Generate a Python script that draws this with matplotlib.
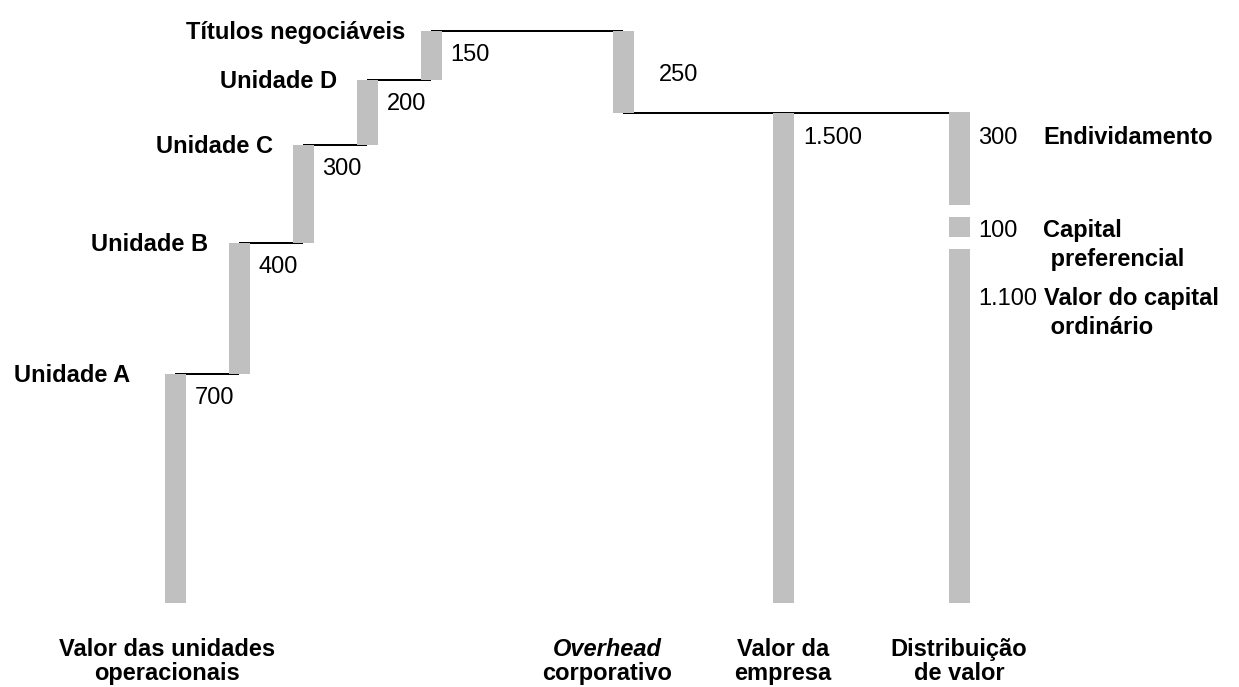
import matplotlib
matplotlib.use("Agg")
import matplotlib.pyplot as plt
import numpy as np

plt.rcParams["font.family"] = ["Liberation Sans", "DejaVu Sans"]

# --- data -------------------------------------------------------------
unit_names = ["Unidade A", "Unidade B", "Unidade C", "Unidade D", "Títulos negociáveis"]
unit_values = [700, 400, 300, 200, 150]
overhead_value = 250
enterprise_value = 1500
claim_names = ["Endividamento", "Capital\n preferencial", "Valor do capital\n ordinário"]
claim_values = [300, 100, 1100]
group_names = ["Valor das unidades\noperacionais", "Overhead\ncorporativo",
               "Valor da\nempresa", "Distribuição\nde valor"]
group_first_line_style = ["normal", "italic", "normal", "normal"]

# --- layout -----------------------------------------------------------
DPI = 100
W_PX, H_PX = 1239, 687
BASE_PX = 603          # pixel row of the zero line
UNIT_PX = 0.327        # pixels per unit of value
SLOT_PX = 64           # pixels between neighbouring slots
ORIGIN_PX = 175        # pixel column of slot 0
BAR_W = 21 / SLOT_PX
GRAY = "#c0c0c0"
FS = 17

unit_slots = [0, 1, 2, 3, 4]
overhead_slot = 7
enterprise_slot = 9.5
claims_slot = 12.25
group_slots = [-0.125, 6.75, 9.5, 12.25]
unit_label_gap_px = [45, 31, 30, 30, 26]      # name to the left of each step
claim_drop_px = [32, 26, 62]                  # number baseline below block top


def pt(px):
    """Convert pixels to points at the figure resolution."""
    return px * 72 / DPI


def fmt(v):
    return f"{v:,}".replace(",", ".")


fig = plt.figure(figsize=(W_PX / DPI, H_PX / DPI), dpi=DPI)
ax = fig.add_axes([0, 0, 1, 1])
ax.set_xlim(-ORIGIN_PX / SLOT_PX, (W_PX - ORIGIN_PX) / SLOT_PX)
ax.set_ylim(-(H_PX - BASE_PX) / UNIT_PX, BASE_PX / UNIT_PX)
ax.axis("off")

line_kw = dict(color="black", lw=pt(2), zorder=1, solid_capstyle="butt")

# --- operating units waterfall ---------------------------------------
bottoms = np.concatenate([[0], np.cumsum(unit_values)[:-1]])
tops = bottoms + np.array(unit_values)
ax.bar(unit_slots, unit_values, bottom=bottoms, width=BAR_W, color=GRAY, zorder=2)

for i, (slot, top, val, name) in enumerate(zip(unit_slots, tops, unit_values, unit_names)):
    nxt = unit_slots[i + 1] if i + 1 < len(unit_slots) else overhead_slot
    ax.plot([slot, nxt], [top, top], **line_kw)
    ax.annotate(fmt(val), (slot + BAR_W / 2, top), xytext=(pt(9), -pt(30)),
                textcoords="offset points", ha="left", va="baseline", fontsize=FS)
    ax.annotate(name, (slot, top), xytext=(-pt(unit_label_gap_px[i]), -pt(8)),
                textcoords="offset points", ha="right", va="baseline",
                fontsize=FS, fontweight="bold")

# --- corporate overhead -----------------------------------------------
gross_total = tops[-1]
ax.bar([overhead_slot], [overhead_value], bottom=gross_total - overhead_value,
       width=BAR_W, color=GRAY, zorder=2)
ax.annotate(fmt(overhead_value), (overhead_slot + BAR_W / 2, gross_total - overhead_value / 2),
            xytext=(pt(25), -pt(9)), textcoords="offset points",
            ha="left", va="baseline", fontsize=FS)
ax.plot([overhead_slot, claims_slot], [enterprise_value, enterprise_value], **line_kw)

# --- enterprise value -------------------------------------------------
ax.bar([enterprise_slot], [enterprise_value], width=BAR_W, color=GRAY, zorder=2)
ax.annotate(fmt(enterprise_value), (enterprise_slot + BAR_W / 2, enterprise_value),
            xytext=(pt(10), -pt(32)), textcoords="offset points",
            ha="left", va="baseline", fontsize=FS)

# --- distribution of value among claims -------------------------------
claim_tops = enterprise_value - np.concatenate([[0], np.cumsum(claim_values)[:-1]])
claim_bottoms = claim_tops - np.array(claim_values)
ax.bar([claims_slot] * len(claim_values), claim_values, bottom=claim_bottoms,
       width=BAR_W, color=GRAY, zorder=2)
ax.hlines(claim_bottoms[:-1], claims_slot - BAR_W, claims_slot + BAR_W,
          color="white", lw=pt(12), zorder=3)

for top, val, name, drop in zip(claim_tops, claim_values, claim_names, claim_drop_px):
    ax.annotate(fmt(val), (claims_slot + BAR_W / 2, top), xytext=(pt(9), -pt(drop)),
                textcoords="offset points", ha="left", va="baseline", fontsize=FS)
    for k, line in enumerate(name.split("\n")):
        ax.annotate(line, (claims_slot + BAR_W / 2, top),
                    xytext=(pt(74), -pt(drop + 29 * k)), textcoords="offset points",
                    ha="left", va="baseline", fontsize=FS, fontweight="bold")

# --- group captions under the bars ------------------------------------
for slot, name, style in zip(group_slots, group_names, group_first_line_style):
    for k, line in enumerate(name.split("\n")):
        ax.annotate(line, (slot, 0), xytext=(0, -pt(53 + 24 * k)),
                    textcoords="offset points", ha="center", va="baseline",
                    fontsize=FS, fontweight="bold",
                    fontstyle=style if k == 0 else "normal")

fig.savefig("out.png", dpi=DPI)
